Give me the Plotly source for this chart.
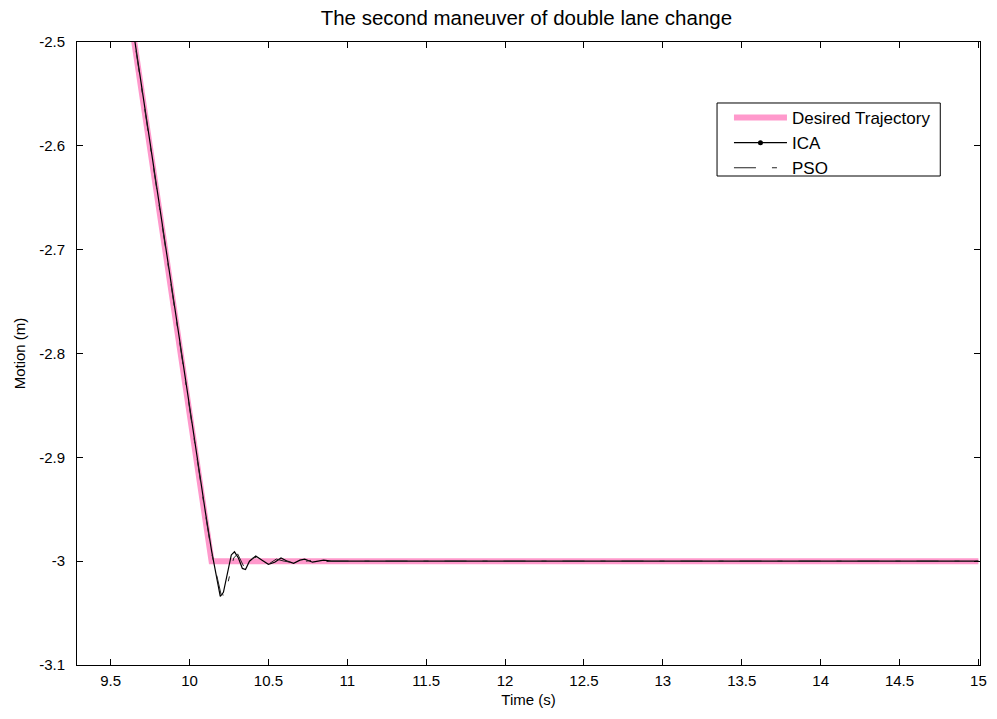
import plotly.graph_objects as go

# Desired trajectory
t_des = [9.55, 10.14, 15.0]
y_des = [-2.398, -3.0, -3.0]

# ICA controller response
t_ica = [9.55, 9.60, 9.65, 9.70, 9.75, 9.80, 9.85, 9.90, 9.95, 10.00, 10.05, 10.10,
         10.14, 10.17, 10.195, 10.215, 10.24, 10.265, 10.285, 10.31, 10.335, 10.355,
         10.38, 10.42, 10.46, 10.50, 10.54, 10.58, 10.62, 10.66, 10.70, 10.73, 10.78,
         10.85, 10.90, 11.5, 12.5, 13.5, 15.0]
y_ica = [-2.394, -2.445, -2.497, -2.546, -2.599, -2.648, -2.700, -2.751, -2.801, -2.853,
         -2.903, -2.952, -2.990, -3.015, -3.034, -3.030, -3.012, -2.994, -2.991, -2.997,
         -3.007, -3.008, -3.000, -2.995, -2.999, -3.003, -3.001, -2.997, -3.000, -3.002,
         -2.999, -2.998, -3.001, -2.999, -3.000, -3.000, -3.000, -3.000, -3.000]

# PSO controller response
t_pso = [9.55, 9.60, 9.65, 9.70, 9.75, 9.80, 9.85, 9.90, 9.95, 10.00, 10.05, 10.10,
         10.14, 10.17, 10.20, 10.225, 10.25, 10.28, 10.305, 10.33, 10.35, 10.375,
         10.40, 10.43, 10.47, 10.51, 10.55, 10.60, 10.64, 10.68, 10.74, 10.78, 10.82,
         10.90, 11.5, 12.5, 13.5, 15.0]
y_pso = [-2.396, -2.447, -2.498, -2.548, -2.600, -2.650, -2.702, -2.752, -2.803, -2.855,
         -2.905, -2.954, -2.992, -3.012, -3.032, -3.033, -3.017, -2.997, -2.993, -3.000,
         -3.007, -3.006, -2.997, -2.996, -3.002, -3.002, -2.998, -3.000, -3.001, -2.999,
         -3.000, -2.999, -3.001, -3.000, -3.000, -3.000, -3.000, -3.000]

x_ticks = [9.5, 10, 10.5, 11, 11.5, 12, 12.5, 13, 13.5, 14, 14.5, 15]
x_labels = ["9.5", "10", "10.5", "11", "11.5", "12", "12.5", "13", "13.5", "14", "14.5", "15"]
y_ticks = [-3.1, -3.0, -2.9, -2.8, -2.7, -2.6, -2.5]
y_labels = ["-3.1", "-3", "-2.9", "-2.8", "-2.7", "-2.6", "-2.5"]

FAM = "Arial, Liberation Sans, sans-serif"
font = dict(family=FAM, size=15, color="black")

fig = go.Figure()
fig.add_trace(go.Scatter(x=t_des, y=y_des, mode="lines", name="Desired Trajectory",
                         line=dict(color="#FF99CC", width=6)))
fig.add_trace(go.Scatter(x=t_ica, y=y_ica, mode="lines", name="ICA", legendgroup="ica",
                         showlegend=False, line=dict(color="black", width=1.2)))
fig.add_trace(go.Scatter(x=[None], y=[None], mode="lines+markers", name="ICA", legendgroup="ica",
                         line=dict(color="black", width=1.2), marker=dict(size=5, color="black")))
fig.add_trace(go.Scatter(x=t_pso, y=y_pso, mode="lines", name="PSO",
                         line=dict(color="#222222", width=1, dash="22px,16px,5px,16px")))

axis_common = dict(showline=True, linecolor="black", linewidth=1, mirror="allticks",
                   ticks="inside", ticklen=6, tickcolor="black", showgrid=False,
                   zeroline=False, tickfont=font)

# legend frame
fig.add_shape(type="rect", xref="paper", yref="paper",
              x0=0.7088, x1=0.956, y0=0.7849, y1=0.9021,
              line=dict(color="black", width=1), fillcolor="white", layer="above")

fig.update_layout(
    width=997, height=719,
    margin=dict(l=77, r=10, t=42, b=54),
    paper_bgcolor="white", plot_bgcolor="white",
    font=font,
    title=dict(text="The second maneuver of double lane change", x=0.528, xanchor="center",
               y=0.975, yanchor="middle", font=dict(size=20.5, family=FAM, color="black")),
    xaxis=dict(range=[9.287, 15.01], tickvals=x_ticks, ticktext=x_labels,
               ticklabelstandoff=2,
               title=dict(text="Time (s)", standoff=6, font=font), **axis_common),
    yaxis=dict(range=[-3.1, -2.5], tickvals=y_ticks, ticktext=y_labels,
               ticklabelstandoff=8,
               title=dict(text="Motion (m)", standoff=9, font=font), **axis_common),
    legend=dict(x=0.722, y=0.9069, xanchor="left", yanchor="top",
                borderwidth=0, bgcolor="rgba(0,0,0,0)", itemwidth=53,
                font=dict(size=17, family=FAM, color="black"),
                tracegroupgap=0),
    showlegend=True,
)

fig.write_html("out.html")
